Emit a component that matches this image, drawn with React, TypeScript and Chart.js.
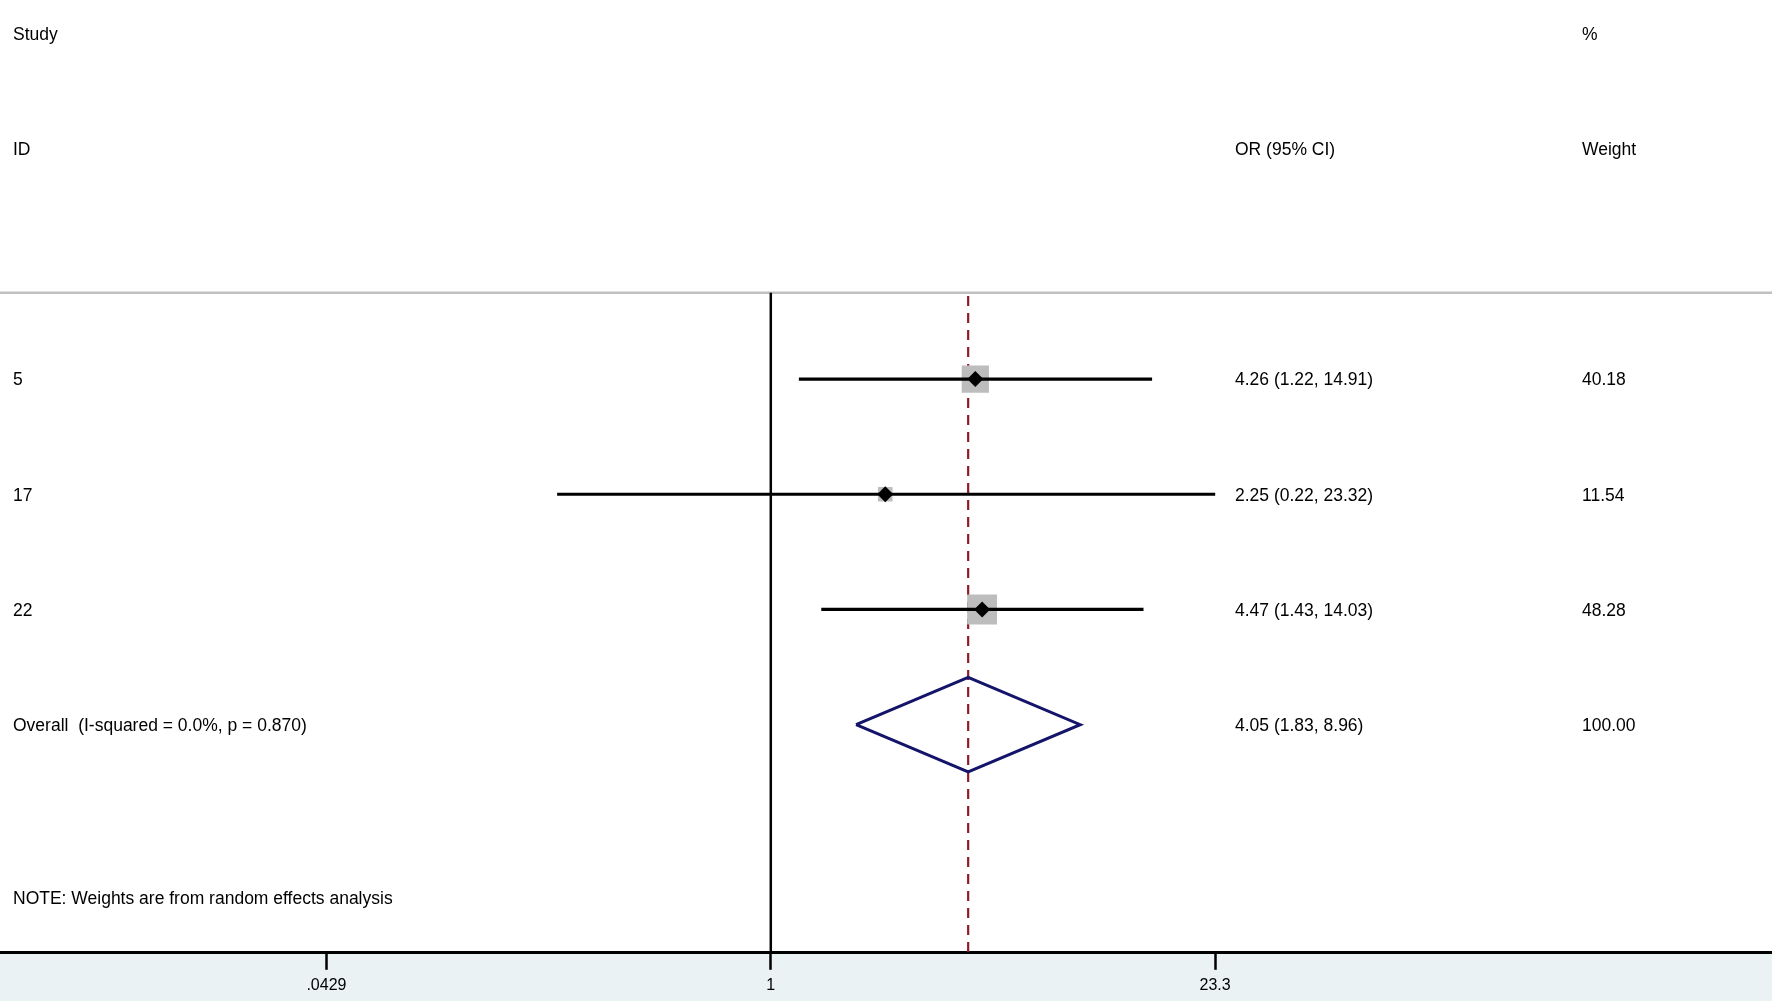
import React, { useEffect, useRef } from "react";
import { Chart, registerables } from "chart.js";

Chart.register(...registerables);

// ---- Data ----
const studyIds = ["5", "17", "22"];
const oddsRatios = [4.26, 2.25, 4.47];
const ciLower = [1.22, 0.22, 1.43];
const ciUpper = [14.91, 23.32, 14.03];
const weights = [40.18, 11.54, 48.28];

const overallOR = 4.05;
const overallLower = 1.83;
const overallUpper = 8.96;
const overallWeight = 100.0;
const iSquared = "0.0%";
const pValue = "0.870";

const xTickValues = [0.0429, 1, 23.3];
const xTickLabels = [".0429", "1", "23.3"];

const headerLeft = ["Study", "ID"];
const headerOR = ["", "OR (95% CI)"];
const headerWeight = ["%", "Weight"];
const noteText = "NOTE: Weights are from random effects analysis";

// ---- Layout constants (axis ranges, rows) ----
const X_MIN = 0.004244;
const X_MAX = 1206;
const Y_MIN = -0.29;
const Y_MAX = 7.98;
const HEADER_LINE_ROW = 2.25;
const FIRST_STUDY_ROW = 3;
const OVERALL_ROW = FIRST_STUDY_ROW + studyIds.length;
const NOTE_ROW = 7.5;
const DIAMOND_HALF = 0.41;
const TEXT_DY = 1.5;

const FONT_FAMILY = '"Liberation Sans", Arial, Helvetica, sans-serif';
const FONT = `17.5px ${FONT_FAMILY}`;

const fmt = (v: number) => v.toFixed(2);

export default function App() {
  const canvasRef = useRef<HTMLCanvasElement | null>(null);

  useEffect(() => {
    const canvas = canvasRef.current;
    if (!canvas) return;

    const rows = studyIds.map((_, i) => FIRST_STUDY_ROW + i);

    const textPlugin = {
      id: "forestText",
      beforeDraw(chart: any) {
        const { ctx, chartArea, width, height } = chart;
        ctx.save();
        ctx.fillStyle = "#eaf2f3";
        ctx.fillRect(0, chartArea.bottom, width, height - chartArea.bottom);
        ctx.restore();
      },
      afterDatasetsDraw(chart: any) {
        const { ctx } = chart;
        const ys = chart.scales.y;
        const py = (v: number) => ys.getPixelForValue(v) + TEXT_DY;
        const colLeft = 13;
        const colOR = 1235;
        const colW = 1582;
        ctx.save();
        ctx.font = FONT;
        ctx.fillStyle = "#000";
        ctx.textBaseline = "middle";
        ctx.textAlign = "left";
        headerLeft.forEach((t, i) => {
          const y = py(i);
          ctx.fillText(t, colLeft, y);
          ctx.fillText(headerOR[i], colOR, y);
          ctx.fillText(headerWeight[i], colW, y);
        });
        studyIds.forEach((id, i) => {
          const y = py(rows[i]);
          ctx.fillText(id, colLeft, y);
          ctx.fillText(
            `${fmt(oddsRatios[i])} (${fmt(ciLower[i])}, ${fmt(ciUpper[i])})`,
            colOR,
            y
          );
          ctx.fillText(fmt(weights[i]), colW, y);
        });
        const yo = py(OVERALL_ROW);
        ctx.fillText(`Overall  (I-squared = ${iSquared}, p = ${pValue})`, colLeft, yo);
        ctx.fillText(
          `${fmt(overallOR)} (${fmt(overallLower)}, ${fmt(overallUpper)})`,
          colOR,
          yo
        );
        ctx.fillText(fmt(overallWeight), colW, yo);
        ctx.fillText(noteText, colLeft, py(NOTE_ROW));
        ctx.restore();
      },
    };

    const lineDefaults = {
      type: "line" as const,
      showLine: true,
      pointRadius: 0,
      fill: false,
      tension: 0,
    };

    const datasets: any[] = [
      // overall diamond (top)
      {
        ...lineDefaults,
        data: [
          { x: overallLower, y: OVERALL_ROW },
          { x: overallOR, y: OVERALL_ROW - DIAMOND_HALF },
          { x: overallUpper, y: OVERALL_ROW },
          { x: overallOR, y: OVERALL_ROW + DIAMOND_HALF },
          { x: overallLower, y: OVERALL_ROW },
        ],
        borderColor: "#14146a",
        borderWidth: 3,
        borderJoinStyle: "miter",
      },
      // point estimate diamonds
      {
        type: "scatter",
        data: oddsRatios.map((v, i) => ({ x: v, y: rows[i] })),
        pointStyle: "rectRot",
        pointRadius: 8,
        backgroundColor: "#000",
        borderColor: "#000",
        borderWidth: 0,
      },
      // CI lines
      ...studyIds.map((_, i) => ({
        ...lineDefaults,
        data: [
          { x: ciLower[i], y: rows[i] },
          { x: ciUpper[i], y: rows[i] },
        ],
        borderColor: "#000",
        borderWidth: 3.2,
      })),
      // weight boxes
      {
        type: "scatter",
        data: oddsRatios.map((v, i) => ({ x: v, y: rows[i] })),
        pointStyle: "rect",
        pointRadius: weights.map((w) => 3.04 * Math.sqrt(w)),
        backgroundColor: "#bdbdbd",
        borderWidth: 0,
      },
      // null line at 1
      {
        ...lineDefaults,
        data: [
          { x: 1, y: HEADER_LINE_ROW },
          { x: 1, y: Y_MAX },
        ],
        borderColor: "#000",
        borderWidth: 2.5,
      },
      // overall effect dashed line
      {
        ...lineDefaults,
        data: [
          { x: overallOR, y: HEADER_LINE_ROW + 0.03 },
          { x: overallOR, y: Y_MAX },
        ],
        borderColor: "#8e1a26",
        borderWidth: 2.2,
        borderDash: [10, 7],
      },
      // header separator line
      {
        ...lineDefaults,
        data: [
          { x: X_MIN, y: HEADER_LINE_ROW },
          { x: X_MAX, y: HEADER_LINE_ROW },
        ],
        borderColor: "#c0c0c0",
        borderWidth: 2.5,
      },
    ];

    const chart = new Chart(canvas, {
      type: "scatter",
      data: { datasets },
      options: {
        animation: false,
        responsive: false,
        maintainAspectRatio: false,
        layout: { padding: 0, autoPadding: false },
        plugins: {
          legend: { display: false },
          tooltip: { enabled: false },
        },
        events: [],
        scales: {
          x: {
            type: "logarithmic",
            min: X_MIN,
            max: X_MAX,
            afterBuildTicks: (scale: any) => {
              scale.ticks = xTickValues.map((v) => ({ value: v }));
            },
            ticks: {
              autoSkip: false,
              maxRotation: 0,
              padding: 6,
              color: "#000",
              font: { family: FONT_FAMILY, size: 16 },
              callback: (value: any) => {
                const idx = xTickValues.findIndex((t) => Math.abs(t - Number(value)) < 1e-9);
                return idx >= 0 ? xTickLabels[idx] : "";
              },
            },
            grid: {
              display: true,
              drawOnChartArea: false,
              drawTicks: true,
              tickLength: 17,
              tickWidth: 2.5,
              tickColor: "#000",
            },
            border: { display: true, color: "#000", width: 3 },
          },
          y: {
            type: "linear",
            reverse: true,
            min: Y_MIN,
            max: Y_MAX,
            display: false,
          },
        },
      },
      plugins: [textPlugin],
    } as any);

    return () => chart.destroy();
  }, []);

  return (
    <div style={{ position: "fixed", left: 0, top: 0, width: 1772, height: 1001, background: "#fff" }}>
      <canvas ref={canvasRef} width={1772} height={1001} style={{ display: "block" }} />
    </div>
  );
}
